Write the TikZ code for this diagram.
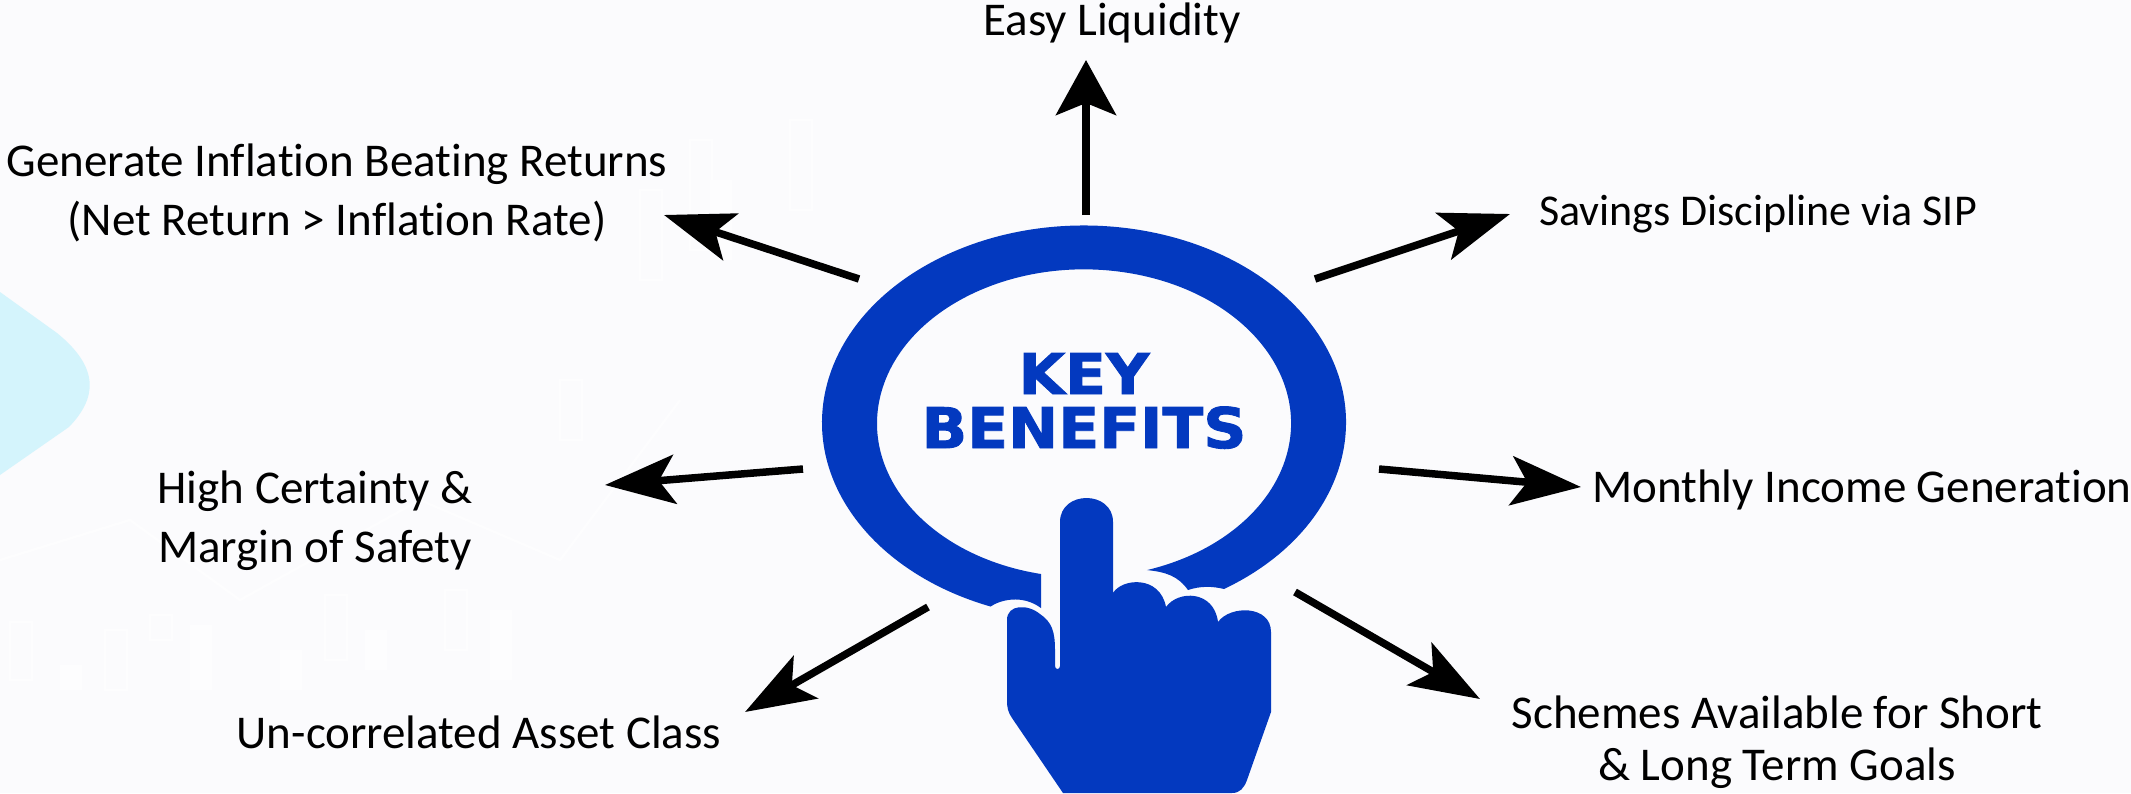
\documentclass[tikz,border=0pt]{standalone}
\usepackage{fontspec}
\usepackage{tikz}
\usetikzlibrary{arrows.meta}
\setmainfont[Ligatures=NoCommon]{Carlito}
\newfontfamily\keyfont[FakeStretch=1.07, BoldFeatures={FakeBold=1.6}]{DejaVu Sans}
\definecolor{keyblue}{HTML}{0339BF}
\definecolor{paper}{HTML}{FBFBFD}
\definecolor{aqua}{HTML}{D4F4FC}
\definecolor{chartline}{HTML}{FDFDFE}
\tikzstyle{benefit} = [align=center, text=black, font=\fontsize{47}{59}\selectfont, inner sep=0pt]
\tikzstyle{title} = [align=center, text=keyblue, font=\keyfont\bfseries\fontsize{56}{54}\selectfont, inner sep=0pt]
\tikzstyle{arrow} = [line width=7.5pt, black, -{Stealth[length=70pt, width=49pt, inset=16pt]}]
\tikzstyle{uparrow} = [line width=7.5pt, black, -{Stealth[length=55pt, width=60pt, inset=12pt]}]
\tikzstyle{candle} = [chartline, line width=2.5pt]

\begin{document}
\begin{tikzpicture}[x=1pt, y=-1pt]
\useasboundingbox (0,0) rectangle (2131,793);
\fill [paper] (0,0) rectangle (2131,793);
\fill [aqua] (0,292) -- (57,333) .. controls (100,368) and (97,398) .. (69,427) -- (0,475) -- cycle;

% faint chart behind
\foreach \x/\a/\b in {10/622/680, 105/630/690, 150/615/640, 325/595/660, 445/590/650, 560/380/440, 640/190/280, 690/140/250, 790/120/210}
  \draw [candle] (\x,\a) rectangle ++(22,\b-\a);
\foreach \x/\a/\b in {60/665/690, 190/625/690, 280/650/690, 365/630/670, 490/610/680, 710/180/260}
  \fill [chartline] (\x,\a) rectangle ++(22,\b-\a);
\draw [candle] (0,560) -- (130,520) -- (240,600) -- (420,500) -- (560,560) -- (680,400);

% ring
\fill [keyblue] (1224,589) arc [start angle=-57.7, end angle=249.1, x radius=262pt, y radius=197pt]
  .. controls (1000,600) and (1022,594) .. (1041,608) -- (1041,574)
  arc [start angle=258, end angle=-72.3, x radius=207pt, y radius=154pt]
  .. controls (1166,572) and (1178,576) .. (1188,590)
  .. controls (1200,586) and (1212,586) .. (1224,589) -- cycle;

% hand
\fill [keyblue] (1113,593) .. controls (1122,578) and (1160,575) .. (1166,607)
  .. controls (1178,590) and (1214,590) .. (1218,622)
  .. controls (1230,605) and (1271,605) .. (1271,632) -- (1271,712) -- (1247,780)
  .. controls (1244,788) and (1240,793) .. (1232,793) -- (1063,793)
  -- (1012,718) .. controls (1008,712) and (1007,708) .. (1007,700) -- (1007,620)
  .. controls (1007,604) and (1028,604) .. (1040,614)
  .. controls (1052,622) and (1055,632) .. (1055,650) -- (1055,666)
  .. controls (1055,670) and (1060,670) .. (1060,666) -- (1060,522)
  .. controls (1060,490) and (1113,490) .. (1113,522) -- cycle;

\node (key) [title] at (1084,401) {KEY\\BENEFITS};

\node (easy) [benefit] at (1112,23) {Easy Liquidity};
\node (returns) [benefit] at (337,193) {Generate Inflation Beating Returns\\(Net Return > Inflation Rate)};
\node (savings) [benefit, font=\fontsize{44}{59}\selectfont] at (1758,214) {Savings Discipline via SIP};
\node (income) [benefit] at (1862,490) {Monthly Income Generation};
\node (certainty) [benefit] at (315,521) {High Certainty \&\\Margin of Safety};
\node (asset) [benefit] at (479,732) {Un-correlated Asset Class};
\node (schemes) [benefit] at (1777,742) {Schemes Available for Short\\[-7pt]\& Long Term Goals};

\coordinate (upa) at (1086,215);
\coordinate (upb) at (1086,60);
\coordinate (ula) at (859,279);
\coordinate (ulb) at (664,215);
\coordinate (ura) at (1315,279);
\coordinate (urb) at (1510,214);
\coordinate (la) at (803,469);
\coordinate (lb) at (605,485);
\coordinate (ra) at (1379,469);
\coordinate (rb) at (1581,487);
\coordinate (lla) at (928,607);
\coordinate (llb) at (745,712);
\coordinate (lra) at (1295,592);
\coordinate (lrb) at (1480,699);

\draw [uparrow] (upa) -- (upb);
\draw [arrow] (ula) -- (ulb);
\draw [arrow] (ura) -- (urb);
\draw [arrow] (la) -- (lb);
\draw [arrow] (ra) -- (rb);
\draw [arrow] (lla) -- (llb);
\draw [arrow] (lra) -- (lrb);

\end{tikzpicture}
\end{document}
